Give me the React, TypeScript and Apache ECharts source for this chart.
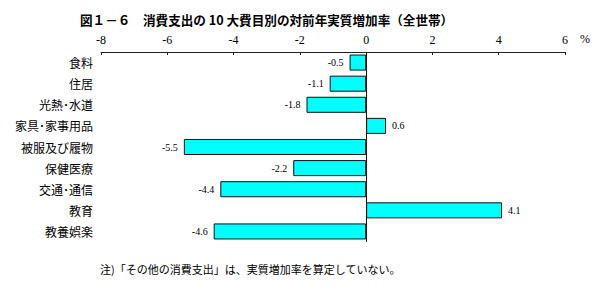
import React, { useEffect, useRef } from "react";
import * as echarts from "echarts";

const categories = ["食料", "住居", "光熱･水道", "家具･家事用品", "被服及び履物", "保健医療", "交通･通信", "教育", "教養娯楽"];
const values = [-0.5, -1.1, -1.8, 0.6, -5.5, -2.2, -4.4, 4.1, -4.6];
const titleText = "図１－６　消費支出の 10 大費目別の対前年実質増加率（全世帯）";
const noteText = "注)「その他の消費支出」は、実質増加率を算定していない。";
const unitText = "%";

export default function App() {
  const ref = useRef<HTMLDivElement>(null);
  useEffect(() => {
    document.body.style.margin = "0";
    const chart = echarts.init(ref.current!, null, { renderer: "svg" });
    const labelBase = {
      show: true,
      distance: 6,
      fontFamily: "Liberation Serif",
      fontSize: 10,
      color: "#000",
      formatter: (p: any) => Number(p.value).toFixed(1),
    };
    chart.setOption({
      animation: false,
      backgroundColor: "#ffffff",
      title: {
        text: titleText,
        left: 75,
        top: 8,
        textStyle: { fontFamily: "Noto Sans CJK JP", fontSize: 12.6, fontWeight: "bold", color: "#000" },
      },
      graphic: [
        { type: "text", left: 580, top: 33, style: { text: unitText, font: "12px 'Liberation Serif'", fill: "#000" } },
        { type: "text", left: 100, top: 263, style: { text: noteText, font: "11px 'Noto Sans CJK JP'", fill: "#000" } },
      ],
      grid: { left: 101, right: 35, top: 52, height: 190, containLabel: false },
      xAxis: {
        type: "value",
        position: "top",
        min: -8,
        max: 6,
        interval: 2,
        splitLine: { show: false },
        axisLine: { show: true, lineStyle: { color: "#222", width: 1 } },
        axisTick: { show: true, inside: true, length: 3, lineStyle: { color: "#222" } },
        axisLabel: { fontFamily: "Liberation Serif", fontSize: 12, color: "#000", margin: 6 },
      },
      yAxis: {
        type: "category",
        data: categories,
        inverse: true,
        axisLine: { show: false },
        axisTick: { show: false },
        axisLabel: { fontFamily: "Noto Sans CJK JP", fontSize: 12, color: "#000", margin: 8 },
      },
      series: [
        {
          type: "bar",
          data: values.map((v) => ({
            value: v,
            label: { ...labelBase, position: v < 0 ? "left" : "right" },
          })),
          barCategoryGap: "24%",
          itemStyle: { color: "#00ffff", borderColor: "#111", borderWidth: 1 },
          label: { ...labelBase, position: "right" },
          markLine: {
            silent: true,
            symbol: "none",
            label: { show: false },
            lineStyle: { color: "#111", type: "solid", width: 1 },
            data: [{ xAxis: 0 }],
          },
        },
      ],
    });
    return () => chart.dispose();
  }, []);
  return <div ref={ref} style={{ width: 600, height: 290 }} />;
}
